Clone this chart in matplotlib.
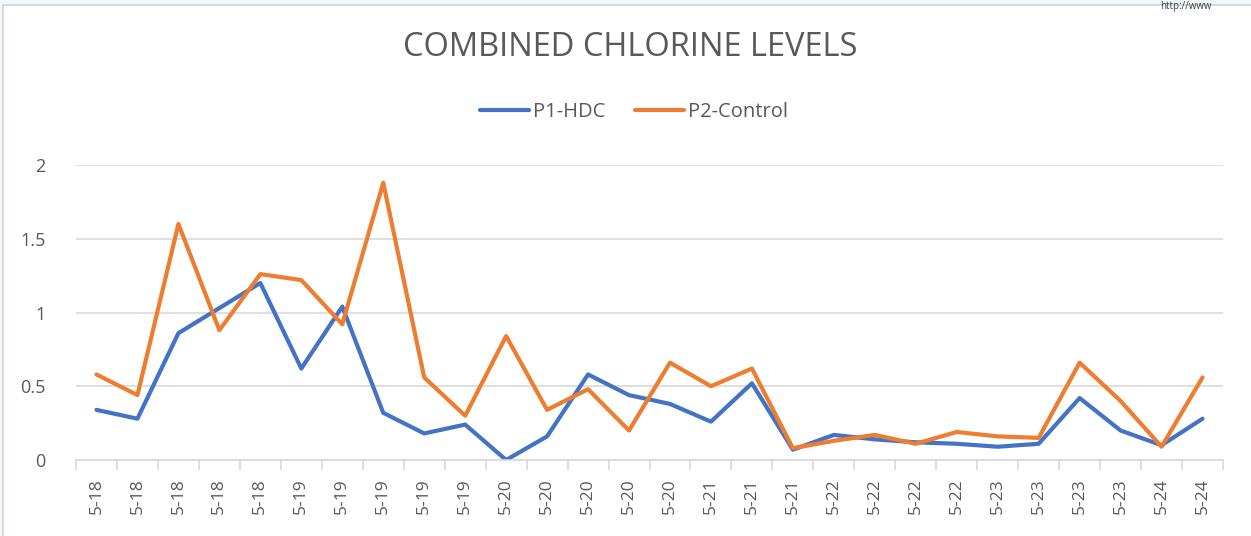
import numpy as np
import matplotlib
matplotlib.use("Agg")
import matplotlib.pyplot as plt
from matplotlib.patches import Rectangle

plt.rcParams['font.family'] = ['Open Sans', 'DejaVu Sans']

dates = ['5-18'] * 5 + ['5-19'] * 5 + ['5-20'] * 5 + ['5-21'] * 3 + \
        ['5-22'] * 4 + ['5-23'] * 4 + ['5-24'] * 2
p1_hdc = [0.34, 0.28, 0.86, 1.03, 1.20, 0.62, 1.04, 0.32, 0.18, 0.24,
          0.00, 0.16, 0.58, 0.44, 0.38, 0.26, 0.52, 0.07, 0.17, 0.14,
          0.12, 0.11, 0.09, 0.11, 0.42, 0.20, 0.10, 0.28]
p2_control = [0.58, 0.44, 1.60, 0.88, 1.26, 1.22, 0.92, 1.88, 0.56, 0.30,
              0.84, 0.34, 0.48, 0.20, 0.66, 0.50, 0.62, 0.08, 0.13, 0.17,
              0.11, 0.19, 0.16, 0.15, 0.66, 0.40, 0.09, 0.56]

W, H = 1251, 536
fig = plt.figure(figsize=(W / 100, H / 100), dpi=100)
fig.patch.set_facecolor('#f3f7fb')
# white chart area with a thin border
fig.add_artist(Rectangle((3 / W, -0.01), 1, 1.01 - 5 / H, transform=fig.transFigure,
                         facecolor='white', edgecolor='#d0d4d8', lw=1.2, zorder=-5))
fig.text(1160 / W, 1 - 1 / H, 'http://www', fontsize=7, color='#404040',
         ha='left', va='top')

ax = fig.add_axes([76 / W, 76 / H, 1147 / W, 295 / H])
ax.set_zorder(2)
ax.set_facecolor('none')
x = np.arange(len(dates))
ax.plot(x, p1_hdc, color='#4472C4', lw=3, solid_joinstyle='round',
        solid_capstyle='round', label='P1-HDC')
ax.plot(x, p2_control, color='#ED7D31', lw=3, solid_joinstyle='round',
        solid_capstyle='round', label='P2-Control')

ax.set_xlim(-0.5, len(dates) - 0.5)
ax.set_ylim(0, 2)
ax.set_yticks([0, 0.5, 1, 1.5, 2])
ax.set_yticklabels(['0', '0.5', '1', '1.5', '2'])
ax.yaxis.grid(True, color='#d9d9d9', lw=1.2)
ax.set_axisbelow(True)
for s in ['top', 'right', 'left']:
    ax.spines[s].set_visible(False)
ax.spines['bottom'].set_color('#d9d9d9')
ax.spines['bottom'].set_linewidth(1.2)

ax.set_xticks(x)
ax.set_xticklabels(dates, rotation=90)
ax.set_xticks(np.arange(-0.5, len(dates)), minor=True)
ax.tick_params(axis='x', which='major', length=0, pad=13, labelsize=12.5,
               labelcolor='#595959')
ax.tick_params(axis='x', which='minor', length=7, color='#d9d9d9', width=1.2)
ax.tick_params(axis='y', length=0, pad=22, labelsize=13, labelcolor='#595959')

fig.text(630 / W, 1 - 48 / H, 'COMBINED CHLORINE LEVELS', ha='center',
         va='center', fontsize=23.5, color='#595959')
fig.legend(loc='center', bbox_to_anchor=(634 / W, 1 - 112 / H), ncol=2,
           frameon=False, fontsize=14.5, labelcolor='#595959', handlelength=2.4,
           handletextpad=0.2, columnspacing=1.5)

fig.savefig('out.png', dpi=100)
